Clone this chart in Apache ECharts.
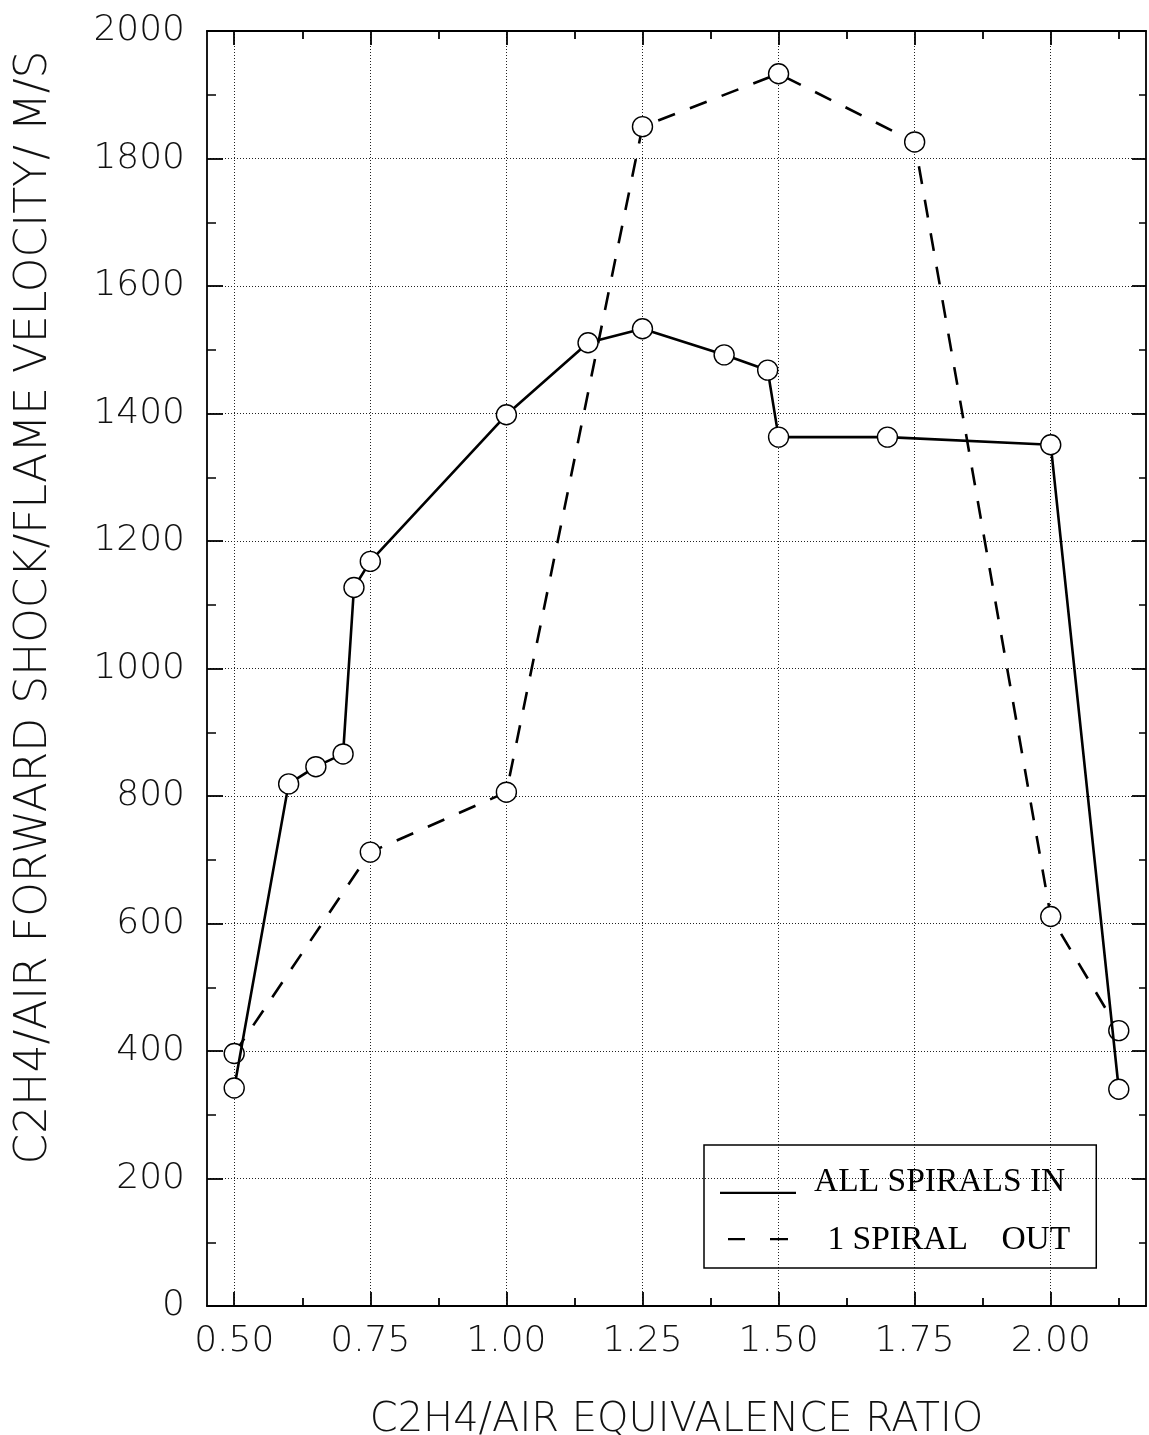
<!DOCTYPE html>
<html>
<head>
<meta charset="utf-8">
<script src="https://cdn.jsdelivr.net/npm/echarts@6/dist/echarts.min.js"></script>
<style>
html,body{margin:0;padding:0;background:#fff;}
#chart{width:1149px;height:1435px;}
</style>
</head>
<body>
<div id="chart"></div>
<script>
// Equivalence ratio / velocity readings
const allSpiralsInX = [0.50, 0.60, 0.65, 0.70, 0.72, 0.75, 1.00, 1.15, 1.25, 1.40, 1.48, 1.50, 1.70, 2.00, 2.125];
const allSpiralsInY = [342, 819, 846, 866, 1127, 1168, 1398, 1511, 1533, 1492, 1468, 1363, 1363, 1351, 340];
const oneSpiralOutX = [0.50, 0.75, 1.00, 1.25, 1.50, 1.75, 2.00, 2.125];
const oneSpiralOutY = [396, 712, 806, 1850, 1933, 1826, 611, 432];
const xMajorTicks = [0.50, 0.75, 1.00, 1.25, 1.50, 1.75, 2.00];
const xMinorTicks = [0.625, 0.875, 1.125, 1.375, 1.625, 1.875, 2.125];
const seriesNames = ['ALL SPIRALS IN', '1 SPIRAL    OUT'];

const sansFont = '"DejaVu Sans ExtraLight", "DejaVu Sans", sans-serif';
const serifFont = '"Liberation Serif", "DejaVu Serif", serif';

function pairs(xs, ys) { return xs.map((x, i) => [x, ys[i]]); }

const chart = echarts.init(document.getElementById('chart'), null, {renderer: 'canvas'});

const axisLineStyle = {color: '#000', width: 1.8};
const gridStyle = {color: '#222', width: 1, type: [1, 2]};
const X_MIN = 0.45, X_MAX = 2.175;

function xAxisDef(position, ticks, len, withLabels) {
  return {
    type: 'value', min: X_MIN, max: X_MAX, position: position,
    axisLine: {show: withLabels !== null, onZero: false, lineStyle: axisLineStyle},
    axisTick: {show: true, inside: true, length: len, customValues: ticks, lineStyle: {color: '#000', width: 1.8}},
    minorTick: {show: false},
    axisLabel: withLabels ? {
      show: true, customValues: ticks, margin: 18,
      fontFamily: sansFont, fontWeight: 200, fontSize: 36, color: '#111',
      formatter: function (v) { return v.toFixed(2); }
    } : {show: false},
    splitLine: withLabels ? {show: true, lineStyle: gridStyle} : {show: false}
  };
}

const xAxes = [
  xAxisDef('bottom', xMajorTicks, 14, true),
  xAxisDef('bottom', xMinorTicks, 8, null),
  xAxisDef('top', xMajorTicks, 14, false),
  xAxisDef('top', xMinorTicks, 8, null)
];
xAxes[0].name = 'C2H4/AIR EQUIVALENCE RATIO';
xAxes[0].nameLocation = 'middle';
xAxes[0].nameGap = 95;
xAxes[0].nameTextStyle = {fontFamily: sansFont, fontWeight: 200, fontSize: 40, color: '#111'};

const option = {
  backgroundColor: '#fff',
  animation: false,
  grid: {left: 207, right: 3, top: 31, bottom: 129, containLabel: false, outerBoundsMode: 'none'},
  legend: {
    orient: 'vertical',
    left: 704,
    top: 1145,
    padding: [20, 26, 11, 16],
    itemGap: 24,
    itemWidth: 89,
    itemHeight: 24,
    borderColor: '#000',
    borderWidth: 1.5,
    backgroundColor: 'transparent',
    itemStyle: {color: '#000', borderWidth: 0},
    textStyle: {fontFamily: serifFont, fontSize: 33.5, color: '#000', lineHeight: 32},
    formatter: function (name) { return name === seriesNames[1] ? ' ' + name : name; },
    data: [
      {name: seriesNames[0], icon: 'path://M0,0L0.02,0L0,0.02Z M89,24L88.98,24L89,23.98Z M0,21.7H76V23.9H0Z'},
      {name: seriesNames[1], icon: 'path://M0,0L0.02,0L0,0.02Z M89,24L88.98,24L89,23.98Z M8,10H25V12.2H8Z M50,10H68V12.2H50Z',
        textStyle: {padding: [0, 0, 0, 5]}}
    ]
  },
  xAxis: xAxes,
  yAxis: [
    {
      type: 'value', min: 0, max: 2000, interval: 200,
      name: 'C2H4/AIR FORWARD SHOCK/FLAME VELOCITY/ M/S', nameLocation: 'middle', nameRotate: 90, nameGap: 150,
      nameTextStyle: {fontFamily: sansFont, fontWeight: 200, fontSize: 44, color: '#111', padding: [0, 0, 0, 122]},
      axisLine: {show: true, onZero: false, lineStyle: axisLineStyle},
      axisTick: {show: true, inside: true, length: 16, lineStyle: {color: '#000', width: 1.8}},
      minorTick: {show: true, splitNumber: 2, length: 9, lineStyle: {color: '#000', width: 1.5}},
      axisLabel: {margin: 22, fontFamily: sansFont, fontWeight: 200, fontSize: 36, color: '#111',
        formatter: function (v) { return String(v); }},
      splitLine: {show: true, lineStyle: gridStyle}
    },
    {
      type: 'value', min: 0, max: 2000, interval: 200, position: 'right',
      axisLine: {show: true, onZero: false, lineStyle: axisLineStyle},
      axisTick: {show: true, inside: true, length: 14, lineStyle: {color: '#000', width: 1.8}},
      minorTick: {show: true, splitNumber: 2, length: 7, lineStyle: {color: '#000', width: 1.5}},
      axisLabel: {show: false},
      splitLine: {show: false}
    }
  ],
  series: [
    {
      name: seriesNames[0], type: 'line', xAxisIndex: 0, yAxisIndex: 0,
      data: pairs(allSpiralsInX, allSpiralsInY),
      symbol: 'circle', symbolSize: 20,
      lineStyle: {color: '#000', width: 2.6, type: 'solid'},
      itemStyle: {color: '#fff', borderColor: '#000', borderWidth: 1.4},
      z: 3
    },
    {
      name: seriesNames[1], type: 'line', xAxisIndex: 0, yAxisIndex: 0,
      data: pairs(oneSpiralOutX, oneSpiralOutY),
      symbol: 'circle', symbolSize: 20,
      lineStyle: {color: '#000', width: 2.6, type: [18, 16]},
      itemStyle: {color: '#fff', borderColor: '#000', borderWidth: 1.4},
      z: 2
    }
  ]
};
chart.setOption(option);
</script>
</body>
</html>
